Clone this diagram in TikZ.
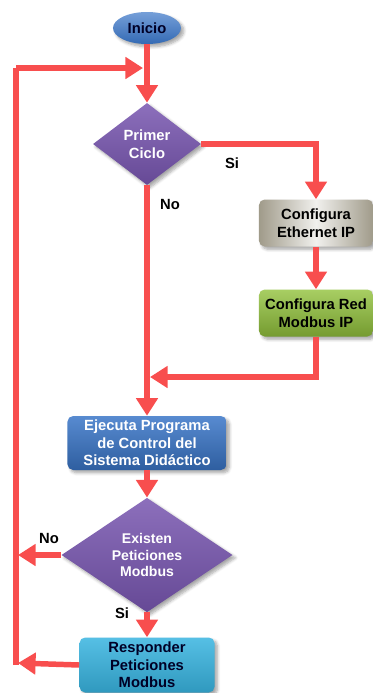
\documentclass[tikz,border=0pt]{standalone}
\usepackage{fontspec}
\setmainfont{Liberation Sans}
\usetikzlibrary{arrows.meta,shapes.geometric,shadows.blur}

\definecolor{rojo}{RGB}{248,78,78}
\definecolor{azul}{RGB}{58,118,200}
\definecolor{lila}{RGB}{120,86,176}
\definecolor{arena}{RGB}{160,155,138}
\definecolor{verde}{RGB}{146,194,60}
\definecolor{celeste}{RGB}{56,180,224}

\begin{document}
\begin{tikzpicture}[x=0.025cm,y=-0.025cm,
    every node/.style={font={\bfseries\fontsize{10.5}{12.5}\selectfont}, align=center},
    sombra/.style={blur shadow={shadow blur steps=6, shadow xshift=2pt, shadow yshift=-2pt, shadow opacity=35}},
    caja/.style={rectangle, rounded corners=4pt, inner sep=1pt, sombra},
    decision/.style={diamond, inner sep=0pt, text=white, sombra,
      top color=lila!85!white, bottom color=lila!85!black},
    linea/.style={draw=rojo, line width=3.9pt, line join=miter},
    flecha/.style={linea, -{Triangle[width=15pt,length=12.5pt]}}]
  \useasboundingbox (0,0) rectangle (373,693);

  \node[ellipse, minimum width=1.7cm, minimum height=0.8cm, sombra,
    top color=azul!70!white, bottom color=azul!90!black, text=black!85!blue]
    (inicio) at (147,28) {Inicio};
  \node[decision, minimum width=2.7cm, minimum height=2.05cm]
    (ciclo) at (147,144) {Primer\\Ciclo};
  \node[caja, minimum width=2.85cm, minimum height=1.175cm,
    left color=arena, right color=arena, middle color=arena!15!white]
    (ethernet) at (316,223) {Configura\\Ethernet IP};
  \node[caja, minimum width=2.85cm, minimum height=1.175cm,
    top color=verde!80!white, bottom color=verde!80!black]
    (redip) at (316,313) {Configura Red\\Modbus IP};
  \node[caja, minimum width=3.975cm, minimum height=1.35cm, text=white,
    top color=azul!85!white, bottom color=azul!80!black]
    (ejecuta) at (147,443) {Ejecuta Programa\\de Control del\\Sistema Didáctico};
  \node[decision, minimum width=4.275cm, minimum height=2cm, font={\bfseries\fontsize{10}{12}\selectfont}]
    (peticiones) at (147,555) {Existen\\Peticiones\\Modbus};
  \node[caja, minimum width=3.375cm, minimum height=1.375cm, text=black!85!blue,
    top color=celeste!85!white, bottom color=celeste!85!black]
    (responder) at (147,665) {Responder\\Peticiones\\Modbus};

  \node (si1) at (232,163) {Si};
  \node (no1) at (170,204) {No};
  \node (no2) at (49,538) {No};
  \node (si2) at (122,613) {Si};

  \coordinate (entrada) at (143,68);
  \coordinate (retorno) at (150,377);
  \coordinate (supizq) at (16,68);
  \coordinate (infizq) at (16,665);
  \coordinate (noizq) at (18,555);
  \coordinate (finizq) at (18,663);

  \begin{scope}
    \draw[linea] (infizq) -- (supizq);
    \draw[flecha] (supizq) -- (entrada);
    \draw[flecha] (inicio.south) -- (ciclo.north);
    \draw[flecha] (ciclo.east) -| (ethernet.north);
    \draw[flecha] (ethernet.south) -- (redip.north);
    \draw[flecha] (redip.south) |- (retorno);
    \draw[flecha] (ciclo.south) -- (ejecuta.north);
    \draw[flecha] (ejecuta.south) -- (peticiones.north);
    \draw[flecha] (peticiones.west) -- (noizq);
    \draw[flecha] (peticiones.south) -- (responder.north);
    \draw[flecha] (responder.west) -- (finizq);
  \end{scope}
\end{tikzpicture}
\end{document}
